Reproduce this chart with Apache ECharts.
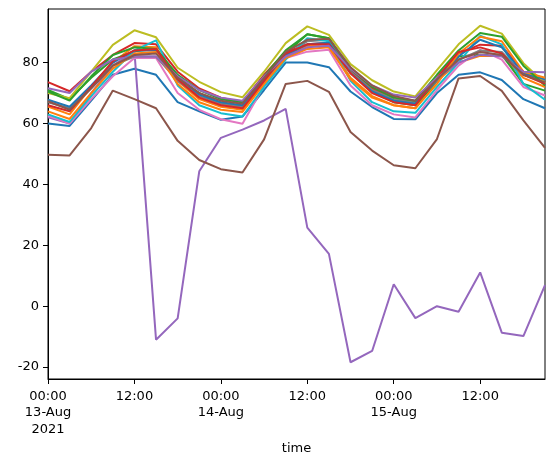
<!DOCTYPE html>
<html>
<head>
<meta charset="utf-8">
<script src="https://cdn.jsdelivr.net/npm/echarts@6/dist/echarts.min.js"></script>
<style>
  html, body { margin: 0; padding: 0; background: #fff; }
  #chart { width: 554px; height: 465px; }
</style>
</head>
<body>
<div id="chart"></div>
<script>
// 3-hourly readings, 13-Aug 00:00 .. 15-Aug 21:00
const times = [
  '2021-08-13 00:00', '2021-08-13 03:00', '2021-08-13 06:00', '2021-08-13 09:00',
  '2021-08-13 12:00', '2021-08-13 15:00', '2021-08-13 18:00', '2021-08-13 21:00',
  '2021-08-14 00:00', '2021-08-14 03:00', '2021-08-14 06:00', '2021-08-14 09:00',
  '2021-08-14 12:00', '2021-08-14 15:00', '2021-08-14 18:00', '2021-08-14 21:00',
  '2021-08-15 00:00', '2021-08-15 03:00', '2021-08-15 06:00', '2021-08-15 09:00',
  '2021-08-15 12:00', '2021-08-15 15:00', '2021-08-15 18:00', '2021-08-15 21:00'
];
const xTicks = ['2021-08-13 00:00', '2021-08-13 12:00', '2021-08-14 00:00',
  '2021-08-14 12:00', '2021-08-15 00:00', '2021-08-15 12:00'];
const yTicks = [-20, 0, 20, 40, 60, 80];

const s0 = [60, 59.2, 67.5, 76, 78, 76, 67, 64, 61.2, 62.3, 71, 80, 80, 78.5, 70.5, 65.4, 61.5, 61.4, 70, 76, 76.8, 74.3, 68, 65];
const s1 = [65.6, 63, 72, 80, 85.4, 85, 74, 68, 65.5, 64.5, 73.5, 82, 85.5, 86, 75, 69, 66, 65, 74, 80, 82.2, 82.2, 75, 72];
const s2 = [71, 68, 75, 81, 83.7, 84.5, 75, 70, 66.5, 65.5, 75, 83, 89.3, 88, 77, 70.5, 67, 66, 74, 82, 82.6, 82.6, 73, 70.8];
const s3 = [73.6, 70.6, 77, 82.5, 86.4, 86, 77, 71.5, 68.5, 67, 76, 83.5, 86, 86.5, 77.5, 71.5, 68, 67, 75, 83, 85.9, 85.5, 77, 73.5];
const s4 = [62, 60, 70, 79, 83.6, -11, -4, 44.3, 55.3, 58, 61, 64.8, 25.8, 17.2, -18.4, -14.7, 7.2, -3.9, 0, -1.8, 11.1, -8.7, -9.8, 6.9];
const s5 = [49.7, 49.5, 58.5, 70.8, 68, 65, 54.3, 48, 45, 43.9, 54.8, 73, 74, 70.4, 57.2, 51.1, 46.3, 45.3, 54.9, 74.8, 75.6, 70.7, 61, 52];
const s6 = [62.5, 60, 68, 75.5, 81.5, 81.5, 70, 64.5, 61.4, 59.9, 72.5, 81.5, 83.6, 84.2, 72.5, 66, 63, 62, 71, 79, 84.2, 81, 72, 69.2];
const s7 = [67, 65, 72, 79, 82, 82, 74, 69, 66.5, 65.5, 74, 82, 87, 87.5, 77, 71, 68, 67, 74, 81, 84, 83.5, 76, 74];
const s8 = [70, 68.3, 77, 85.8, 90.6, 88.3, 78.3, 73.7, 70.3, 68.6, 77, 86.4, 91.9, 89.1, 79.5, 74.2, 70.5, 68.9, 77.5, 86, 92.1, 89.5, 79.8, 73.2];
const s9 = [63, 60.5, 69, 77, 84, 87.3, 72.5, 66, 63.4, 62.3, 72, 81, 88, 87, 74, 67, 64, 63.5, 72, 80, 88.8, 86, 73, 67.8];
const s10 = [67.8, 65.5, 72.5, 80, 84, 84, 75, 69.5, 67, 66, 74.5, 82.5, 86, 86.5, 76.5, 70.5, 67.5, 66.5, 74.5, 82, 87.5, 85, 76.5, 74.5];
const s11 = [64, 61.5, 70, 78, 83, 83.5, 73, 67, 64.5, 63.8, 73, 81.5, 84.5, 85, 74.5, 68.5, 66, 65, 73, 83, 88.5, 87, 77, 75];
const s12 = [70.5, 67.5, 75.5, 82.5, 85, 84.5, 76, 71, 68, 67, 75.5, 84, 89.3, 88, 78, 72, 68.5, 67.5, 76, 84, 89.7, 88.5, 79, 72.5];
const s13 = [66, 64, 72, 80.5, 84, 84.5, 74.5, 68.5, 66, 65, 74, 83, 86, 86, 76.5, 70, 67, 66, 75, 83.5, 85, 83, 76, 73];
const s14 = [71.6, 70, 77, 81, 82, 82, 75.5, 71, 68.5, 67.5, 75.5, 82, 85, 85.5, 78, 72.5, 69.5, 68.5, 75, 80, 82.6, 82, 77, 76.8];
const s15 = [67.3, 64.5, 71.5, 79, 82.5, 83, 75, 70, 67.5, 66.5, 75, 83.5, 87.5, 87.8, 78.5, 72.5, 69, 67.5, 74.5, 81, 83.5, 82.5, 76, 73.5];

const allSeries = [s0, s1, s2, s3, s4, s5, s6, s7, s8, s9, s10, s11, s12, s13, s14, s15];
const palette = ['#1f77b4', '#ff7f0e', '#2ca02c', '#d62728', '#9467bd',
  '#8c564b', '#e377c2', '#7f7f7f', '#bcbd22', '#17becf'];

const MONTHS = ['Jan', 'Feb', 'Mar', 'Apr', 'May', 'Jun', 'Jul', 'Aug', 'Sep', 'Oct', 'Nov', 'Dec'];
function pad (n) { return (n < 10 ? '0' : '') + n; }

function toDate (s) {
  const p = s.split(/[- :]/).map(Number);
  return new Date(p[0], p[1] - 1, p[2], p[3], p[4]);
}
// x axis works in hours since the first reading
const t0 = toDate(times[0]).getTime();
function toHours (s) { return Math.round((toDate(s).getTime() - t0) / 3600000); }

let chart = echarts.init(document.getElementById('chart'), null, { renderer: 'canvas' });
let option = {
  animation: false,
  backgroundColor: '#fff',
  color: palette,
  textStyle: { fontFamily: 'DejaVu Sans' },
  grid: {
    left: 48,
    right: 9,
    top: 9,
    bottom: 86,
    show: true,
    borderColor: '#000',
    borderWidth: 1,
    backgroundColor: 'transparent'
  },
  xAxis: {
    type: 'value',
    min: toHours(times[0]),
    max: toHours(times[times.length - 1]),
    name: 'time',
    nameLocation: 'middle',
    nameGap: 60,
    nameTextStyle: { color: '#000', fontSize: 13, fontFamily: 'DejaVu Sans' },
    axisLine: { show: true, onZero: false, lineStyle: { color: '#000', width: 1 } },
    axisTick: {
      show: true,
      length: 5,
      lineStyle: { color: '#000' },
      customValues: xTicks.map(toHours)
    },
    axisLabel: {
      color: '#000',
      fontSize: 13,
      margin: 9,
      lineHeight: 16.5,
      align: 'center',
      customValues: xTicks.map(toHours),
      formatter: function (h) {
        const d = new Date(t0 + h * 3600000);
        let txt = pad(d.getHours()) + ':' + pad(d.getMinutes());
        if (d.getHours() === 0) {
          txt += '\n' + pad(d.getDate()) + '-' + MONTHS[d.getMonth()];
          if (h === 0) txt += '\n' + d.getFullYear();
        }
        return txt;
      }
    },
    splitLine: { show: false }
  },
  yAxis: {
    type: 'value',
    min: -23.9,
    max: 97.6,
    axisLine: { show: true, lineStyle: { color: '#000', width: 1 } },
    axisTick: {
      show: true,
      length: 5,
      lineStyle: { color: '#000' },
      customValues: yTicks
    },
    axisLabel: {
      color: '#000',
      fontSize: 13,
      margin: 9,
      customValues: yTicks
    },
    splitLine: { show: false }
  },
  series: allSeries.map(function (vals, i) {
    return {
      type: 'line',
      showSymbol: false,
      silent: true,
      lineStyle: { width: 2, color: palette[i % 10] },
      data: vals.map(function (v, j) { return [toHours(times[j]), v]; })
    };
  })
};
chart.setOption(option);
</script>
</body>
</html>
